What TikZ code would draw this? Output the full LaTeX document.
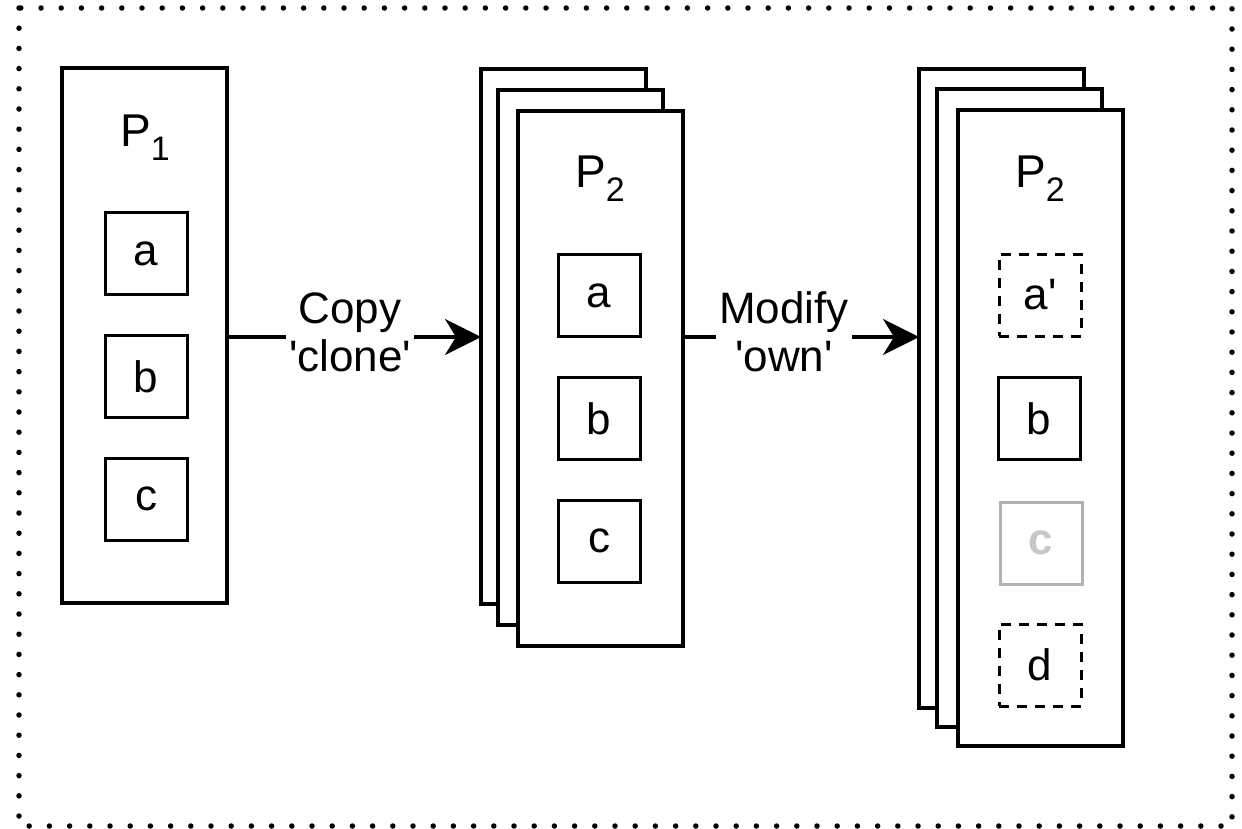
\documentclass[tikz,border=0pt]{standalone}
\usepackage{fontspec}
\setmainfont{Liberation Sans}
\usetikzlibrary{arrows.meta}
\newcommand{\Psub}[1]{P\raisebox{-0.3em}{\fontsize{34}{34}\selectfont #1}}
\newcommand{\sq}{\textquotesingle}
\begin{document}
\begin{tikzpicture}[x=1pt,y=-1pt,
  every node/.style={font=\fontsize{44}{48}\selectfont, inner sep=0pt, outer sep=0pt},
  panel/.style={draw, line width=3.6pt, fill=white, minimum width=165pt, anchor=north west},
  item/.style={draw, line width=3pt, minimum width=82pt, minimum height=82pt},
  dashitem/.style={item, dash pattern=on 10pt off 8pt},
  greyitem/.style={item, draw=black!30, text=black!22, font=\fontsize{44}{48}\selectfont\bfseries},
  ptitle/.style={font=\fontsize{46}{50}\selectfont},
  lbl/.style={fill=white, align=center, inner sep=3pt},
  arr/.style={line width=3.4pt, -{Stealth[length=36pt, width=36pt, inset=11pt]}}
]
\useasboundingbox (0,0) rectangle (1242,828);
\draw[line width=5.5pt, line cap=round, dash pattern=on 0pt off 20.2pt] (19,8) rectangle (1232,826);

% P1
\node[panel, minimum height=535pt] (p1) at (62,68) {};
\node[ptitle] (t1) at (145,138) {\Psub{1}};
\node[item] (a1) at (146,253.5) {a};
\node[item] (b1) at (146,376.5) {b};
\node[item] (c1) at (146,499) {c};

% P2 stack
\node[panel, minimum height=535pt] (p2b) at (481,69) {};
\node[panel, minimum height=535pt] (p2m) at (498,90) {};
\node[panel, minimum height=535pt] (p2f) at (518,111) {};
\node[ptitle] (t2) at (600,179) {\Psub{2}};
\node[item] (a2) at (599,295.5) {a};
\node[item] (b2) at (599,418.5) {b};
\node[item] (c2) at (599,541) {c};

% P3 stack
\node[panel, minimum height=639pt] (p3b) at (919,69) {};
\node[panel, minimum height=638pt] (p3m) at (937,89) {};
\node[panel, minimum height=636pt] (p3f) at (958,110) {};
\node[ptitle] (t3) at (1040,179) {\Psub{2}};
\node[dashitem] (a3) at (1040,295) {a\sq};
\node[item] (b3) at (1039,418.5) {b};
\node[greyitem] (c3) at (1041,543) {c};
\node[dashitem] (d3) at (1040,665) {d};

% connectors
\coordinate (ay) at (0,337);
\draw[arr] (p1.east |- ay) -- (p2b.west |- ay);
\node[lbl] (l1) at (350,332) {Copy\\\sq clone\sq};
\draw[arr] (p2f.east |- ay) -- (p3b.west |- ay);
\node[lbl] (l2) at (784,332) {Modify\\\sq own\sq};
\end{tikzpicture}
\end{document}
